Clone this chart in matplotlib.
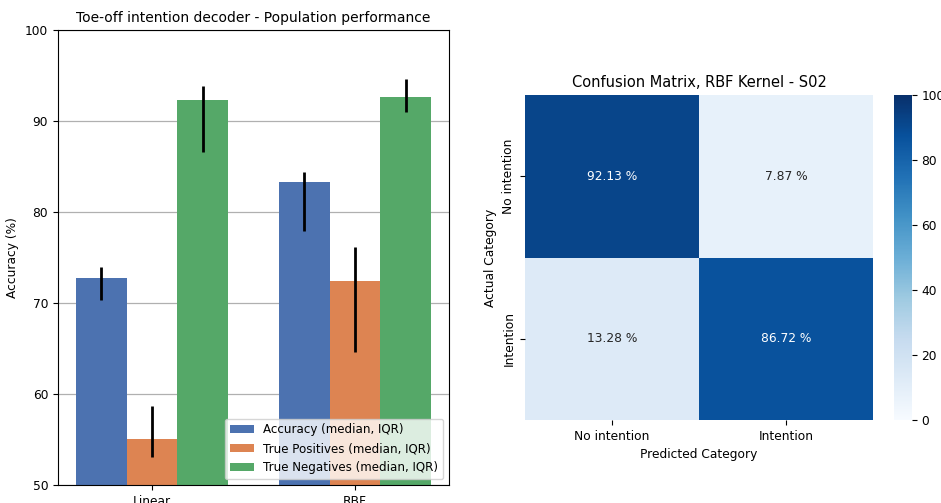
import matplotlib
matplotlib.use("Agg")
import matplotlib.pyplot as plt
import numpy as np
import seaborn as sns

MODELS = ["Linear", "RBF"]
SERIES = [
    "Accuracy (median, IQR)",
    "True Positives (median, IQR)",
    "True Negatives (median, IQR)",
]
MEDIANS = {
    "acc": [72.7, 83.3],
    "tp": [55.0, 72.4],
    "tn": [92.3, 92.6],
}
Q1 = {
    "acc": [70.3, 77.9],
    "tp": [53.1, 64.6],
    "tn": [86.6, 91.0],
}
Q3 = {
    "acc": [74.0, 84.4],
    "tp": [58.7, 76.2],
    "tn": [93.8, 94.6],
}
COLORS = ["#4C72B0", "#DD8452", "#55A868"]

CM_LABELS = ["No intention", "Intention"]
CM_VALUES = np.array([[92.13, 7.87], [13.28, 86.72]])

plt.rcParams["font.size"] = 8.8

fig = plt.figure(figsize=(9.41, 5.03), dpi=100)
ax = fig.add_axes([0.0616, 0.0358, 0.4155, 0.9045])
ax.grid(axis="y", color="#b0b0b0", linewidth=0.9, zorder=0)
ax.set_axisbelow(True)

x = np.arange(len(MODELS))
width = 0.25
for i, (key, label, color) in enumerate(zip(["acc", "tp", "tn"], SERIES, COLORS)):
    pos = x + (i - 1) * width
    med = np.array(MEDIANS[key])
    ax.bar(pos, med, width=width, color=color, label=label, zorder=2)
    ax.vlines(pos, Q1[key], Q3[key], color="black", linewidth=2.0, zorder=3)

ax.set_ylim(50, 100)
ax.set_xticks(x)
ax.set_xticklabels(MODELS)
ax.set_ylabel("Accuracy (%)")
ax.set_title("Toe-off intention decoder - Population performance", fontsize=10)
ax.legend(loc="lower right", fontsize=8.6)

hax = fig.add_axes([0.558, 0.165, 0.370, 0.646])
cax = fig.add_axes([0.950, 0.165, 0.019, 0.646])
annot = np.array([[f"{v:.2f} %" for v in row] for row in CM_VALUES])
sns.heatmap(CM_VALUES, annot=annot, fmt="", cmap="Blues", vmin=0, vmax=100,
            ax=hax, cbar_ax=cax, xticklabels=CM_LABELS, yticklabels=CM_LABELS,
            annot_kws={"fontsize": 8.8})
hax.set_title("Confusion Matrix, RBF Kernel - S02", fontsize=10.5)
hax.set_xlabel("Predicted Category")
hax.set_ylabel("Actual Category")

fig.savefig("out.png", dpi=100)
